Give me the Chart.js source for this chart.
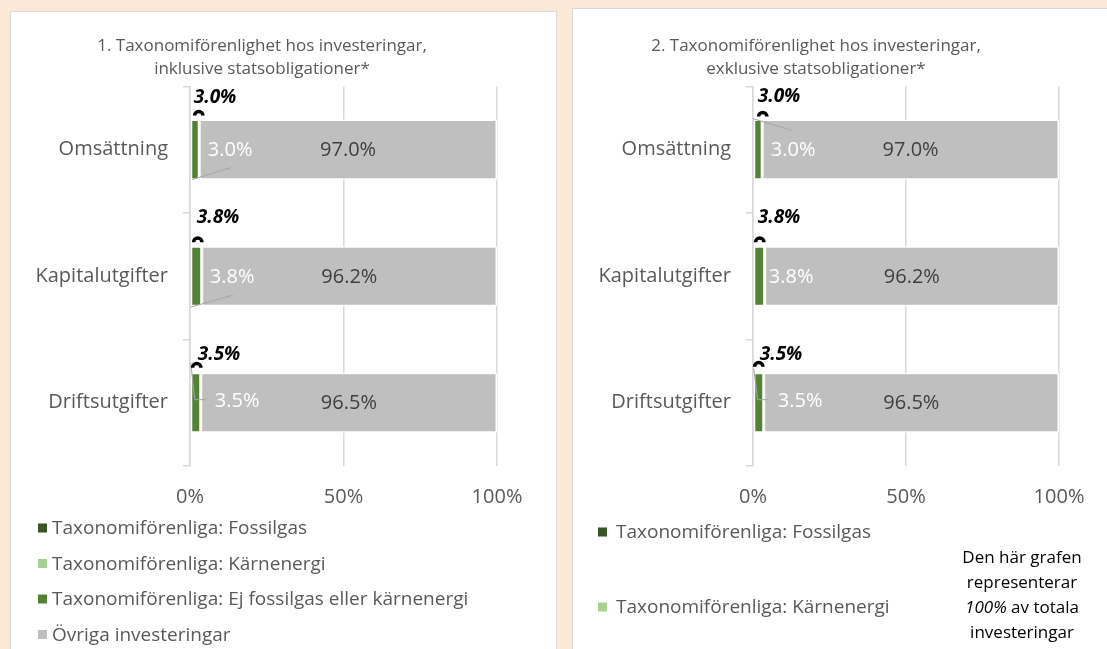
<!DOCTYPE html>
<html><head><meta charset="utf-8">
<script src="https://cdn.jsdelivr.net/npm/chart.js@4.4.1/dist/chart.umd.min.js"></script>
<style>
html,body{margin:0;padding:0;}
body{width:1107px;height:649px;overflow:hidden;background:#FBE8D6;position:relative;font-family:'Open Sans',sans-serif;}
.panel{position:absolute;background:#fff;border:1.5px solid #D9D9D9;box-sizing:border-box;}
canvas{position:absolute;}
</style></head><body>
<div class="panel" style="left:10px;top:11px;width:547px;height:700px"></div>
<div class="panel" style="left:572px;top:8px;width:560px;height:700px"></div>
<canvas id="c1" width="544" height="637" style="left:11px;top:12px"></canvas>
<canvas id="c2" width="534" height="637" style="left:573px;top:12px"></canvas>
<script>
// ---------- DATA ----------
const categories = ['Omsättning', 'Kapitalutgifter', 'Driftsutgifter'];
const seriesNames = [
  'Taxonomiförenliga: Fossilgas',
  'Taxonomiförenliga: Kärnenergi',
  'Taxonomiförenliga: Ej fossilgas eller kärnenergi',
  'Övriga investeringar'
];
// Chart 1: inklusive statsobligationer
const fossilgas1 = [0, 0, 0];
const karnenergi1 = [0, 0, 0];
const ejFossil1 = [3.0, 3.8, 3.5];
const ovriga1 = [97.0, 96.2, 96.5];
// Chart 2: exklusive statsobligationer
const fossilgas2 = [0, 0, 0];
const karnenergi2 = [0, 0, 0];
const ejFossil2 = [3.0, 3.8, 3.5];
const ovriga2 = [97.0, 96.2, 96.5];
const xTickValues = [0, 50, 100];
const title1 = ['1. Taxonomiförenlighet hos investeringar,', 'inklusive statsobligationer*'];
const title2 = ['2. Taxonomiförenlighet hos investeringar,', 'exklusive statsobligationer*'];
const noteLines = ['Den här grafen', 'representerar', ['100%', ' av totala'], 'investeringar'];

// ---------- STYLE ----------
const FONT = "'Open Sans', sans-serif";
const seriesColors = ['#375623', '#A9D18E', '#548235', '#BFBFBF'];
const TEXT = '#595959';
const GRID = '#D9D9D9';

const labelsPlugin = {
  id: 'panelLabels',
  afterDatasetsDraw(chart, args, opts) {
    const ctx = chart.ctx;
    const ds = chart.data.datasets;
    const greenMeta = chart.getDatasetMeta(2);
    const greyMeta = chart.getDatasetMeta(3);
    ctx.save();
    ctx.font = '20px ' + FONT;
    ctx.fillStyle = '#404040';
    ctx.textAlign = 'center';
    ctx.textBaseline = 'middle';
    greyMeta.data.forEach((el, i) => {
      ctx.fillText(ds[3].data[i].toFixed(1) + '%', (el.x + el.base) / 2, el.y + 1);
    });
    greenMeta.data.forEach((el, i) => {
      const top = el.y - el.height / 2;
      const base = el.base;
      const ld = opts.leaders[i];
      if (ld && ld.length) {
        ctx.strokeStyle = '#A6A6A6';
        ctx.lineWidth = 1;
        ctx.beginPath();
        ld.forEach((p, k) => { const px = base + p[0], py = top + p[1]; k ? ctx.lineTo(px, py) : ctx.moveTo(px, py); });
        ctx.stroke();
      }
      ctx.font = '20px ' + FONT;
      ctx.fillStyle = '#FFFFFF';
      ctx.textAlign = 'left';
      ctx.fillText(ds[2].data[i].toFixed(1) + '%', base + opts.white[i][0], top + opts.white[i][1]);
      ctx.strokeStyle = '#000';
      ctx.lineWidth = 3.5;
      ctx.beginPath();
      ctx.arc(base + opts.dome[i][0], top + opts.dome[i][1] + 2, 4.2, Math.PI, 2 * Math.PI);
      ctx.stroke();
      const total = ds[0].data[i] + ds[1].data[i] + ds[2].data[i];
      ctx.font = 'italic bold 19px ' + FONT;
      ctx.fillStyle = '#000';
      ctx.fillText(total.toFixed(1) + '%', base + opts.bold[i][0], top + opts.bold[i][1]);
    });
    ctx.restore();
  },
  afterDraw(chart, args, opts) {
    const ctx = chart.ctx;
    ctx.save();
    ctx.textBaseline = 'middle';
    ctx.textAlign = 'left';
    ctx.font = '19px ' + FONT;
    opts.legend.items.forEach((dsIndex, r) => {
      const y = opts.legend.y0 + r * opts.legend.dy;
      const d = chart.data.datasets[dsIndex];
      ctx.fillStyle = d.backgroundColor;
      ctx.fillRect(opts.legend.x, y - 4.5, 9, 9);
      ctx.fillStyle = TEXT;
      ctx.fillText(d.label, opts.legend.tx, y + 1);
    });
    if (opts.note) {
      ctx.fillStyle = '#000';
      opts.note.lines.forEach((ln, k) => {
        const y = opts.note.y0 + k * opts.note.dy;
        if (Array.isArray(ln)) {
          ctx.font = 'italic 17px ' + FONT;
          const w1 = ctx.measureText(ln[0]).width;
          ctx.font = '17px ' + FONT;
          const w2 = ctx.measureText(ln[1]).width;
          const x = opts.note.cx - (w1 + w2) / 2;
          ctx.textAlign = 'left';
          ctx.font = 'italic 17px ' + FONT;
          ctx.fillText(ln[0], x, y);
          ctx.font = '17px ' + FONT;
          ctx.fillText(ln[1], x + w1, y);
        } else {
          ctx.font = '17px ' + FONT;
          ctx.textAlign = 'center';
          ctx.fillText(ln, opts.note.cx, y);
        }
      });
    }
    ctx.restore();
  }
};

function makeChart(id, titleLines, arrays, cfg) {
  const datasets = arrays.map((arr, k) => ({
    label: seriesNames[k],
    data: arr,
    backgroundColor: seriesColors[k],
    borderColor: '#FFFFFF',
    borderWidth: arr.some(v => v > 0) ? 1.5 : 0,
    borderSkipped: false,
    barPercentage: 0.475,
    categoryPercentage: 1.0
  }));
  return new Chart(document.getElementById(id), {
    type: 'bar',
    data: { labels: categories, datasets },
    plugins: [labelsPlugin],
    options: {
      indexAxis: 'y',
      responsive: false,
      animation: false,
      layout: { padding: { left: cfg.padLeft, right: cfg.padRight, top: 0, bottom: 0 } },
      scales: {
        x: {
          stacked: true, min: 0, max: 100,
          afterBuildTicks: s => { s.ticks = xTickValues.map(v => ({ value: v })); },
          afterFit: s => { s.height = cfg.xHeight; },
          grid: { color: GRID, lineWidth: 1.5, drawTicks: false },
          border: { display: false },
          ticks: { callback: v => v + '%', padding: 19, color: TEXT, font: { family: FONT, size: 20 }, maxRotation: 0 }
        },
        y: {
          stacked: true,
          afterFit: s => { s.width = cfg.yWidth; },
          grid: { color: GRID, lineWidth: 1.5, drawOnChartArea: false, drawTicks: true, tickLength: 7, offset: true },
          border: { display: true, color: GRID, width: 1.5 },
          ticks: { padding: 15, color: TEXT, font: { family: FONT, size: 20 } }
        }
      },
      plugins: {
        legend: { display: false },
        tooltip: { enabled: false },
        title: {
          display: true, text: titleLines, color: TEXT,
          font: { family: FONT, size: 17, weight: 'normal', lineHeight: 1.35 },
          padding: { top: 22.5, bottom: 6 }
        },
        panelLabels: cfg.labels
      }
    }
  });
}

makeChart('c1', title1, [fossilgas1, karnenergi1, ejFossil1, ovriga1], {
  padLeft: 16, padRight: 58, xHeight: 183, yWidth: 163,
  labels: {
    bold: [[3, -22], [6, -29], [7, -18]],
    dome: [[8, -6], [7, -6], [6, -7]],
    white: [[17, 31], [19, 31], [24, 29]],
    leaders: [[[1, 60], [40, 48]], [[0, 61], [42, 49]], [[0, -10], [4, 27], [15, 27]]],
    legend: { items: [0, 1, 2, 3], x: 27, tx: 41, y0: 516, dy: 35.5 }
  }
});
makeChart('c2', title2, [fossilgas2, karnenergi2, ejFossil2, ovriga2], {
  padLeft: 0, padRight: 48, xHeight: 183, yWidth: 180,
  labels: {
    bold: [[4, -23], [4, -29], [6, -18]],
    dome: [[9, -5], [6, -6], [5, -8]],
    white: [[17, 31], [15, 31], [24, 29]],
    leaders: [[[-1, -1], [39, 11]], [], [[0, -4], [4, 27], [14, 27]]],
    legend: { items: [0, 1], x: 25, tx: 43, y0: 520, dy: 75 },
    note: { lines: noteLines, cx: 449, y0: 546, dy: 25 }
  }
});
</script>
</body></html>
